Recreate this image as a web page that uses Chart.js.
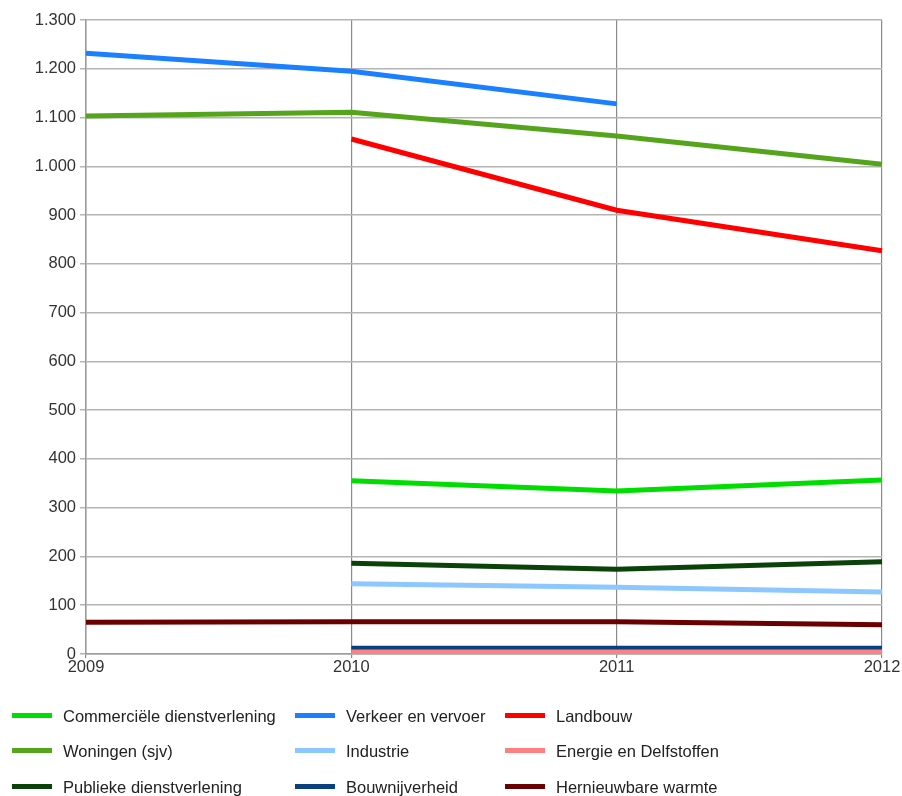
<!DOCTYPE html>
<html>
<head>
<meta charset="utf-8">
<script src="https://cdn.jsdelivr.net/npm/chart.js@4/dist/chart.umd.min.js"></script>
<style>
  html, body { margin: 0; padding: 0; background: #fff; }
  #wrap { position: relative; width: 902px; height: 796px; }
  #chart { position: absolute; left: 0; top: 0; }
  #legend { position: absolute; left: 0; top: 700px; width: 902px; height: 96px;
            font-family: "Liberation Sans", Arial, sans-serif; font-size: 16.5px; color: #222; }
  .item { position: absolute; height: 20px; line-height: 20px; white-space: nowrap; }
  .swatch { position: absolute; top: 7px; width: 40px; height: 5px; }
  .label { position: absolute; left: 51px; top: 0; }
</style>
</head>
<body>
<div id="wrap">
  <canvas id="chart" width="902" height="796"></canvas>
  <div id="legend"></div>
</div>
<script>
// Years on the horizontal axis
const years = ['2009', '2010', '2011', '2012'];

// Energy use per sector (values per year; null = no figure)
const commercieleDienstverlening = [null, 355, 334, 357];
const verkeerEnVervoer          = [1232, 1195, 1128, null];
const landbouw                  = [null, 1056, 910, 827];
const woningen                  = [1103, 1111, 1062, 1004];
const industrie                 = [null, 144, 137, 127];
const energieEnDelfstoffen      = [null, 4, 4, 4];
const publiekeDienstverlening   = [null, 186, 174, 189];
const bouwnijverheid            = [null, 12, 12, 12];
const hernieuwbareWarmte        = [65, 66, 66, 60];

const seriesNames = [
  'Commerciële dienstverlening', 'Verkeer en vervoer', 'Landbouw',
  'Woningen (sjv)', 'Industrie', 'Energie en Delfstoffen',
  'Publieke dienstverlening', 'Bouwnijverheid', 'Hernieuwbare warmte'
];
const seriesValues = [
  commercieleDienstverlening, verkeerEnVervoer, landbouw,
  woningen, industrie, energieEnDelfstoffen,
  publiekeDienstverlening, bouwnijverheid, hernieuwbareWarmte
];
const seriesColors = [
  '#00dd00', '#1a80ff', '#ff0000',
  '#55a51c', '#8cc8ff', '#ff8080',
  '#0a420a', '#0a3f80', '#6a0000'
];

const datasets = seriesNames.map((name, i) => ({
  label: name,
  data: seriesValues[i],
  borderColor: seriesColors[i],
  backgroundColor: seriesColors[i],
  borderWidth: 5,
  pointRadius: 0,
  pointHoverRadius: 0,
  tension: 0,
  spanGaps: false,
  fill: false
}));

const fmt = v => v.toLocaleString('de-DE', { minimumFractionDigits: 0 });

new Chart(document.getElementById('chart'), {
  type: 'line',
  data: { labels: years, datasets },
  options: {
    responsive: false,
    animation: false,
    events: [],
    layout: { padding: { top: 20, right: 20, bottom: 112, left: 0 } },
    plugins: { legend: { display: false }, tooltip: { enabled: false } },
    scales: {
      x: {
        offset: false,
        grid: { color: '#8a8a8a', lineWidth: 1.2, tickLength: 4, drawTicks: true },
        border: { color: '#9a9a9a', width: 1.5 },
        ticks: { color: '#333', font: { family: 'Liberation Sans', size: 16.5 }, padding: 0, maxRotation: 0 },
        afterFit: s => { s.height = 30; }
      },
      y: {
        min: 0, max: 1300,
        grid: { color: '#b4b4b4', lineWidth: 1.5, tickLength: 6 },
        border: { color: '#9a9a9a', width: 1.5 },
        ticks: {
          stepSize: 100,
          color: '#333',
          font: { family: 'Liberation Sans', size: 16.5 },
          padding: 4,
          callback: v => fmt(v)
        },
        afterFit: s => { s.width = 86; }
      }
    }
  }
});

// Legend in three columns, filled row by row from the dataset list
const legend = document.getElementById('legend');
const colX = [12, 295, 505];
const rowY = [6, 41, 77];
seriesNames.forEach((name, i) => {
  const item = document.createElement('div');
  item.className = 'item';
  item.style.left = colX[i % 3] + 'px';
  item.style.top = rowY[Math.floor(i / 3)] + 'px';
  const sw = document.createElement('div');
  sw.className = 'swatch';
  sw.style.background = seriesColors[i];
  const lb = document.createElement('span');
  lb.className = 'label';
  lb.textContent = name;
  item.appendChild(sw);
  item.appendChild(lb);
  legend.appendChild(item);
});
</script>
</body>
</html>
